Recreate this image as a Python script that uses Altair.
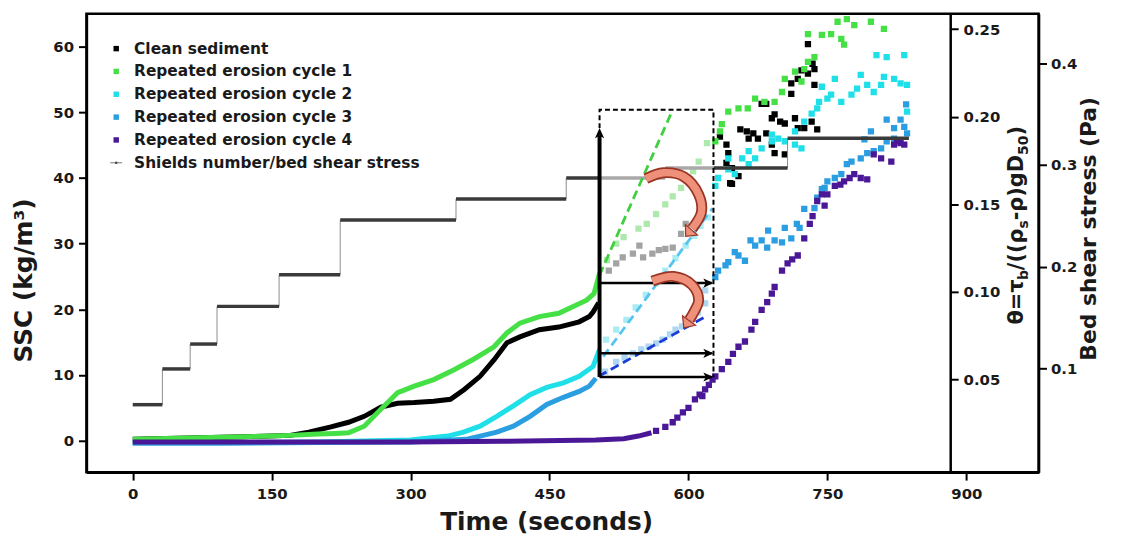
import altair as alt
import pandas as pd

# ----------------------------- data -----------------------------
series_names = ["Clean sediment", "Repeated erosion cycle 1", "Repeated erosion cycle 2",
                "Repeated erosion cycle 3", "Repeated erosion cycle 4"]
shields_label = "Shields number/bed shear stress"
series_colors = ["#000000", "#45e045", "#1fdfe8", "#2a9ee0", "#4a1896"]
faded_colors = ["#a3a3a3", "#ade9ad", "#a9ecf2", "#acd6f1"]

# dense part of each record: time [s], SSC [kg/m3]
clean_line_t = [0, 60, 120, 170, 190, 214, 233, 250, 268, 286, 304, 325, 343, 358, 375, 390, 404, 418, 439, 460, 482, 493, 497, 503]
clean_line_v = [0.2, 0.4, 0.6, 0.8, 1.3, 2.1, 2.8, 3.7, 5.1, 5.7, 5.8, 6.0, 6.3, 7.8, 9.8, 12.3, 14.9, 15.8, 16.9, 17.3, 18.1, 18.9, 19.6, 21.0]
c1_line_t = [0, 60, 120, 170, 200, 219, 233, 250, 268, 286, 304, 325, 347, 368, 390, 404, 418, 439, 460, 475, 490, 498, 504]
c1_line_v = [0.2, 0.4, 0.6, 0.8, 1.0, 1.1, 1.2, 2.2, 4.8, 7.3, 8.3, 9.3, 10.8, 12.4, 14.3, 16.4, 17.9, 18.9, 19.4, 20.4, 21.4, 22.4, 25.5]
c2_line_t = [0, 100, 200, 300, 340, 357, 375, 393, 411, 429, 447, 465, 482, 497, 504]
c2_line_v = [-0.3, -0.3, -0.2, 0.1, 0.7, 1.3, 2.2, 3.7, 5.3, 7.0, 8.1, 8.8, 9.8, 11.3, 13.9]
c3_line_t = [0, 100, 200, 300, 360, 375, 393, 411, 429, 447, 465, 482, 493, 500]
c3_line_v = [-0.4, -0.4, -0.3, -0.2, 0.2, 0.7, 1.3, 2.2, 3.7, 5.5, 6.6, 7.5, 8.3, 9.5]
c4_line_t = [0, 100, 200, 300, 400, 500, 530, 546, 560]
c4_line_v = [-0.2, -0.2, -0.2, -0.2, -0.1, 0.1, 0.3, 0.7, 1.2]

# scattered part (after the highlighted window)
clean_pts_t = [634, 641, 643, 641, 647, 647, 654, 656, 663, 670, 665, 675, 684, 690, 693, 699, 704, 693, 704, 690,
               684, 679, 711, 711, 718, 722, 729, 736, 736, 734, 715, 718, 725, 733, 739, 729, 645]
clean_pts_v = [46.3, 45.1, 43.8, 42.3, 41.5, 39.1, 40.3, 47.4, 47.1, 46.8, 46.0, 46.0, 46.8, 49.1, 49.7, 48.6, 48.3, 43.8, 43.6, 45.1,
               51.3, 51.3, 54.4, 52.8, 55.1, 56.4, 55.9, 56.6, 54.2, 57.4, 49.1, 47.6, 47.6, 48.6, 47.4, 60.4, 39.2]
c1_pts_t = [629, 634, 636, 643, 654, 664, 672, 682, 693, 701, 704, 715, 725, 722, 729, 736, 729, 744, 754, 765, 768, 771, 779, 797, 811, 761]
c1_pts_v = [45.6, 47.1, 48.2, 50.1, 50.6, 50.6, 52.1, 51.6, 51.6, 53.1, 55.1, 56.2, 56.6, 54.7, 57.7, 58.4, 61.9, 61.8, 61.9, 61.2, 60.3, 64.2, 63.3, 63.8, 62.7, 63.8]
c2_pts_t = [629, 632, 643, 650, 643, 658, 665, 665, 672, 679, 690, 690, 697, 704, 715, 715, 722, 725, 733, 739, 741, 750, 754, 744,
            758, 765, 776, 782, 786, 793, 800, 808, 811, 822, 829, 836, 803, 814, 833, 836]
c2_pts_v = [38.8, 40.0, 41.3, 40.6, 43.0, 43.0, 44.1, 42.1, 43.0, 44.5, 46.6, 45.6, 46.0, 45.6, 47.1, 45.1, 44.5, 48.6, 49.8, 50.6, 51.6, 52.1, 52.7, 53.9,
            55.1, 51.6, 52.7, 53.6, 55.7, 54.2, 53.1, 54.2, 55.4, 55.1, 54.4, 54.2, 58.7, 58.4, 58.7, 50.1]
c3_pts_t = [629, 632, 640, 643, 650, 654, 661, 667, 672, 679, 685, 686, 693, 701, 704, 711, 717, 720, 725, 736, 739, 744, 747, 750,
            758, 765, 771, 776, 786, 790, 793, 797, 800, 808, 814, 822, 822, 829, 833, 836, 835, 814]
c3_pts_v = [24.9, 25.9, 26.7, 27.2, 28.7, 28.2, 27.4, 30.5, 29.7, 30.5, 29.4, 32.0, 30.5, 30.2, 32.4, 30.8, 33.0, 32.4, 35.3, 35.4, 37.0, 38.3, 38.5, 39.5,
            40.0, 40.6, 42.1, 42.5, 43.0, 45.9, 43.8, 47.1, 44.1, 44.5, 45.6, 46.0, 47.6, 48.9, 47.8, 46.8, 51.2, 48.9]
c4_pts_t = [565, 575, 583, 588, 594, 600, 607, 612, 615, 618, 622, 626, 629, 636, 643, 648, 654, 661, 668, 672, 679, 685, 690, 693,
            701, 707, 712, 718, 725, 731, 734, 739, 744, 747, 750, 758, 764, 768, 774, 779, 786, 793, 800, 808, 819, 822, 825, 829, 833]
c4_pts_v = [1.5, 2.1, 2.8, 3.5, 4.3, 5.0, 6.3, 7.0, 6.8, 7.8, 8.5, 9.3, 9.8, 10.9, 12.0, 13.2, 14.3, 15.1, 16.9, 18.1, 19.9, 21.1, 22.4, 23.4,
            25.9, 27.0, 27.6, 28.2, 30.8, 33.0, 34.2, 36.5, 37.5, 35.8, 37.5, 38.8, 39.0, 39.5, 40.0, 40.6, 40.0, 39.8, 43.6, 43.0, 42.5, 45.1, 45.6, 45.3, 45.1]

# faded points inside the highlighted window
clean_faded_t = [514, 522, 529, 540, 547, 551, 561, 568, 575, 583, 592, 597]
clean_faded_v = [25.9, 27.0, 27.9, 28.5, 29.7, 27.9, 28.5, 29.0, 29.2, 29.4, 31.5, 33.0]
c1_faded_t = [512, 522, 530, 546, 555, 565, 575, 583, 592, 600, 605, 611, 620]
c1_faded_v = [27.5, 30.0, 31.0, 32.3, 33.0, 34.5, 36.0, 37.2, 38.5, 39.8, 41.0, 42.5, 45.3]
c2_faded_t = [511, 522, 533, 543, 554, 565, 575, 586, 597, 606, 613, 621]
c2_faded_v = [15.4, 16.9, 18.4, 20.3, 22.2, 24.0, 25.9, 27.8, 29.7, 31.2, 32.7, 34.0]
c3_faded_t = [510, 522, 531, 540, 549, 557, 565, 572, 580, 586, 593, 600, 610, 618, 618]
c3_faded_v = [10.5, 12.0, 12.7, 13.3, 13.9, 14.3, 14.8, 15.4, 16.2, 16.9, 17.4, 17.9, 19.5, 20.9, 22.9]

# Shields number steps
step_start = [0, 32, 62, 91, 158, 224, 349, 468, 575, 707]
step_end = [32, 62, 91, 158, 224, 349, 468, 575, 707, 838]
step_theta = [0.0357, 0.0561, 0.0703, 0.0918, 0.1099, 0.1411, 0.1530, 0.1650, 0.1707, 0.1877]

# highlighted window and annotations
window_t = [504, 627]
window_top = 50.4
window_arrow_top = 47.6
arrow_levels = [24.0, 13.3, 9.7]
green_dash_t = [504, 583]
green_dash_v = [25.2, 50.4]
cyan_dash_t = [508, 626]
cyan_dash_v = [12.8, 35.4]
blue_dash_t = [503, 621]
blue_dash_v = [9.8, 19.1]
curve1_t = [554, 573, 595, 611, 614, 604]
curve1_v = [39.9, 40.8, 40.2, 37.5, 34.8, 32.3]
curve1_tip = (597, 31.1, 41)
curve2_t = [561, 584, 604, 611, 606, 601]
curve2_v = [24.3, 25.0, 23.7, 21.4, 19.6, 18.4]
curve2_tip = (595, 17.2, 36)

ssc_ticks = [0, 10, 20, 30, 40, 50, 60]
time_ticks = [0, 150, 300, 450, 600, 750, 900]
theta_ticks = [0.05, 0.10, 0.15, 0.20, 0.25]
tau_ticks = [0.1, 0.2, 0.3, 0.4]

# ----------------------------- layout -----------------------------
W, H = 959, 461.6
FONT = "DejaVu Sans"

X = alt.X("t:Q", scale=alt.Scale(domain=[-50, 978], nice=False, zero=False),
          axis=alt.Axis(values=time_ticks, title="Time (seconds)", titleFontSize=25,
                        titleX=463, titleY=50, titleAlign="center", titleBaseline="middle",
                        labelPadding=7, labelFlush=False))
ssc_scale = alt.Scale(domain=[-4.8, 65], nice=False, zero=False)
Y = alt.Y("v:Q", scale=ssc_scale,
          axis=alt.Axis(values=ssc_ticks, title="SSC (kg/m³)", titleFontSize=25, titleAngle=270,
                        titleX=-63, titleY=268, titleAlign="center", titleBaseline="middle",
                        labelPadding=5))
Yn = alt.Y("v:Q", scale=ssc_scale, axis=None)


def df(t, v, **extra):
    d = pd.DataFrame({"t": t, "v": v})
    for k, val in extra.items():
        d[k] = val
    return d


def line(t, v, color, width=5.0, y=Y):
    return alt.Chart(df(t, v)).mark_line(color=color, strokeWidth=width).encode(x=X, y=y)


def squares(t, v, color, size=40):
    return alt.Chart(df(t, v)).mark_square(color=color, size=size, opacity=1, clip=True).encode(x=X, y=Y)


line_t = [clean_line_t, c1_line_t, c2_line_t, c3_line_t, c4_line_t]
line_v = [clean_line_v, c1_line_v, c2_line_v, c3_line_v, c4_line_v]
pts_t = [clean_pts_t, c1_pts_t, c2_pts_t, c3_pts_t, c4_pts_t]
pts_v = [clean_pts_v, c1_pts_v, c2_pts_v, c3_pts_v, c4_pts_v]
fad_t = [clean_faded_t, c1_faded_t, c2_faded_t, c3_faded_t]
fad_v = [clean_faded_v, c1_faded_v, c2_faded_v, c3_faded_v]

data_layers = []
for i in range(4):
    data_layers.append(squares(fad_t[i], fad_v[i], faded_colors[i]))
for i in range(5):
    data_layers.append(line(line_t[i], line_v[i], series_colors[i]))
for i in range(5):
    data_layers.append(squares(pts_t[i], pts_v[i], series_colors[i]))
data_layer = alt.layer(*data_layers)

# Shields number steps (theta axis)
theta_scale = alt.Scale(domain=[-0.0028, 0.2587], nice=False, zero=False)
Yth = alt.Y("theta:Q", scale=theta_scale,
            axis=alt.Axis(orient="right", offset=-89, values=theta_ticks, format=".2f",
                          title=None, labelPadding=5))
seg_rows = []
for s, e, th in zip(step_start, step_end, step_theta):
    cuts = sorted(set([s, e] + [c for c in window_t if s < c < e]))
    for a, b in zip(cuts[:-1], cuts[1:]):
        inside = window_t[0] <= a and b <= window_t[1]
        seg_rows.append({"t": a, "t2": b, "theta": th, "col": "#a9a9a9" if inside else "#3a3a3a"})
seg_df = pd.DataFrame(seg_rows)
con_rows = []
for k in range(len(step_theta) - 1):
    tb = step_end[k]
    inside = window_t[0] <= tb <= window_t[1]
    con_rows.append({"t": tb, "theta": step_theta[k], "theta2": step_theta[k + 1],
                     "col": "#c8c8c8" if inside else "#8c8c8c"})
con_df = pd.DataFrame(con_rows)
steps_layer = alt.layer(
    alt.Chart(con_df).mark_rule(strokeWidth=1).encode(
        x=X, y=Yth, y2="theta2:Q", color=alt.Color("col:N", scale=None)),
    alt.Chart(seg_df).mark_rule(strokeWidth=3.5).encode(
        x=X, x2="t2:Q", y=Yth, color=alt.Color("col:N", scale=None)),
)

# bed shear stress axis (invisible marks)
tau_scale = alt.Scale(domain=[-0.0015, 0.4484], nice=False, zero=False)
tau_layer = alt.Chart(pd.DataFrame({"tau": tau_ticks})).mark_rule(opacity=0).encode(
    y=alt.Y("tau:Q", scale=tau_scale,
            axis=alt.Axis(orient="right", offset=0, values=tau_ticks, format=".1f",
                          title="Bed shear stress (Pa)", titleFontSize=22, titleAngle=270,
                          titleX=50, titleY=216, titleAlign="center", titleBaseline="middle",
                          labelPadding=4)))

# annotations (SSC scale, no axis)
box_df = pd.DataFrame({"t": [window_t[0], window_t[0], window_t[1], window_t[1]],
                       "v": [window_arrow_top, window_top, window_top, arrow_levels[2]],
                       "i": [0, 1, 2, 3]})
box = alt.Chart(box_df).mark_line(color="black", strokeWidth=2, strokeDash=[5, 3]).encode(
    x=X, y=Yn, order="i:Q")
up_rule = alt.Chart(pd.DataFrame({"t": [window_t[0]], "v": [arrow_levels[2]], "v2": [window_arrow_top - 1.2]})).mark_rule(
    color="black", strokeWidth=4).encode(x=X, y=Yn, y2="v2:Q")
up_head = alt.Chart(pd.DataFrame({"t": [window_t[0]], "v": [window_arrow_top]})).mark_point(
    shape="M0,0 L-0.45,1 L0,0.75 L0.45,1 Z", filled=True, color="black", opacity=1, size=420).encode(x=X, y=Yn)
h_df = pd.DataFrame({"t": [window_t[0]] * 3, "t2": [window_t[1] - 2] * 3, "v": arrow_levels})
h_rules = alt.Chart(h_df).mark_rule(color="black", strokeWidth=2.5).encode(x=X, x2="t2:Q", y=Yn)
h_heads = alt.Chart(pd.DataFrame({"t": [window_t[1]] * 3, "v": arrow_levels})).mark_point(
    shape="M0,0 L-1,-0.45 L-0.75,0 L-1,0.45 Z", filled=True, color="black", opacity=1, size=420).encode(x=X, y=Yn)
dashes = [
    line(green_dash_t, green_dash_v, "#3fcf3f", 2.8, Yn).mark_line(color="#3fcf3f", strokeWidth=2.8, strokeDash=[9, 5]),
    line(cyan_dash_t, cyan_dash_v, "#56c4f0", 2.8, Yn).mark_line(color="#56c4f0", strokeWidth=2.8, strokeDash=[9, 5]),
    line(blue_dash_t, blue_dash_v, "#1a3bd8", 2.8, Yn).mark_line(color="#1a3bd8", strokeWidth=2.8, strokeDash=[9, 5]),
]
curves = []
for ct, cv, tip in [(curve1_t, curve1_v, curve1_tip), (curve2_t, curve2_v, curve2_tip)]:
    cdf = pd.DataFrame({"t": ct, "v": cv, "i": list(range(len(ct)))})
    curves.append(alt.Chart(cdf).mark_line(color="#9a3424", strokeWidth=11, interpolate="catmull-rom",
                                           strokeCap="butt").encode(x=X, y=Yn, order="i:Q"))
    curves.append(alt.Chart(cdf).mark_line(color="#ef907a", strokeWidth=7.5, interpolate="catmull-rom",
                                           strokeCap="butt").encode(x=X, y=Yn, order="i:Q"))
    curves.append(alt.Chart(pd.DataFrame({"t": [tip[0]], "v": [tip[1]]})).mark_point(
        shape="M0,0 L-1,-1.1 L1,-1.1 Z", filled=True, fill="#ef907a", stroke="#9a3424", strokeWidth=1.2,
        opacity=1, size=260, angle=tip[2]).encode(x=X, y=Yn))
annot_layer = alt.layer(*dashes, box, up_rule, up_head, h_rules, h_heads, *curves)

# legend
leg_labels = series_names + [shields_label]
leg_df = pd.DataFrame({"label": leg_labels,
                       "py": [35 + 23 * i for i in range(6)],
                       "ptx": [48] * 6,
                       "psx": [30] * 6,
                       "col": series_colors + ["#777777"]})
PX = lambda f: alt.X(f, scale=None, axis=None)
PY = lambda f: alt.Y(f, scale=None, axis=None)
legend_layer = alt.layer(
    alt.Chart(leg_df.iloc[:5]).mark_square(size=30, opacity=1).encode(
        x=PX("psx:Q"), y=PY("py:Q"), color=alt.Color("col:N", scale=None)),
    alt.Chart(leg_df.iloc[5:]).mark_rule(color="#777777", strokeWidth=1).encode(
        x=alt.value(24), x2=alt.value(36), y=alt.value(150)),
    alt.Chart(leg_df.iloc[5:]).mark_square(size=5, color="#444444", opacity=1).encode(
        x=PX("psx:Q"), y=PY("py:Q")),
    alt.Chart(leg_df).mark_text(align="left", baseline="middle", font=FONT, fontWeight="bold",
                                fontSize=15.5, color="#1a1a1a").encode(
        x=PX("ptx:Q"), y=PY("py:Q"), text="label:N"),
)

# theta axis title with subscripts
adv = {"θ": 0.687, "=": 0.838, "τ": 0.61, "/": 0.365, "(": 0.457, ")": 0.457, "ρ": 0.716,
       "-": 0.415, "g": 0.716, "D": 0.83, "b": 0.716, "s": 0.595, "5": 0.696, "0": 0.696}
pieces = [("θ=τ", 0), ("b", 1), ("/((ρ", 0), ("s", 1), ("-ρ)gD", 0), ("50", 1), (")", 0)]
rows = []
ypos = 313.0
for txt, sub in pieces:
    fs = 14 if sub else 21
    rows.append({"txt": txt, "fs": fs, "px": 948 if sub else 943, "py": ypos})
    ypos -= sum(adv[c] for c in txt) * fs
title_df = pd.DataFrame(rows)
title_layer = alt.Chart(title_df).mark_text(angle=270, align="left", baseline="alphabetic", font=FONT,
                                            fontWeight="bold", color="#1a1a1a").encode(
    x=PX("px:Q"), y=PY("py:Q"), text="txt:N", size=alt.Size("fs:Q", scale=None, legend=None))

chart = alt.layer(data_layer, steps_layer, tau_layer, annot_layer, legend_layer, title_layer).resolve_scale(
    y="independent"
).properties(
    width=W, height=H,
    autosize=alt.AutoSizeParams(type="none"),
    padding={"left": 79, "top": 4, "right": 80, "bottom": 64},
    background="white",
).configure_view(
    stroke="black", strokeWidth=2.5
).configure_axis(
    labelFont=FONT, labelFontWeight="bold", labelFontSize=15, labelColor="#1a1a1a",
    titleFont=FONT, titleFontWeight="bold", titleColor="#1a1a1a",
    tickColor="black", tickWidth=2, tickSize=8, domainColor="black", domainWidth=2.5, grid=False,
)

chart.save("out.html", embed_options={"renderer": "svg", "actions": False})
